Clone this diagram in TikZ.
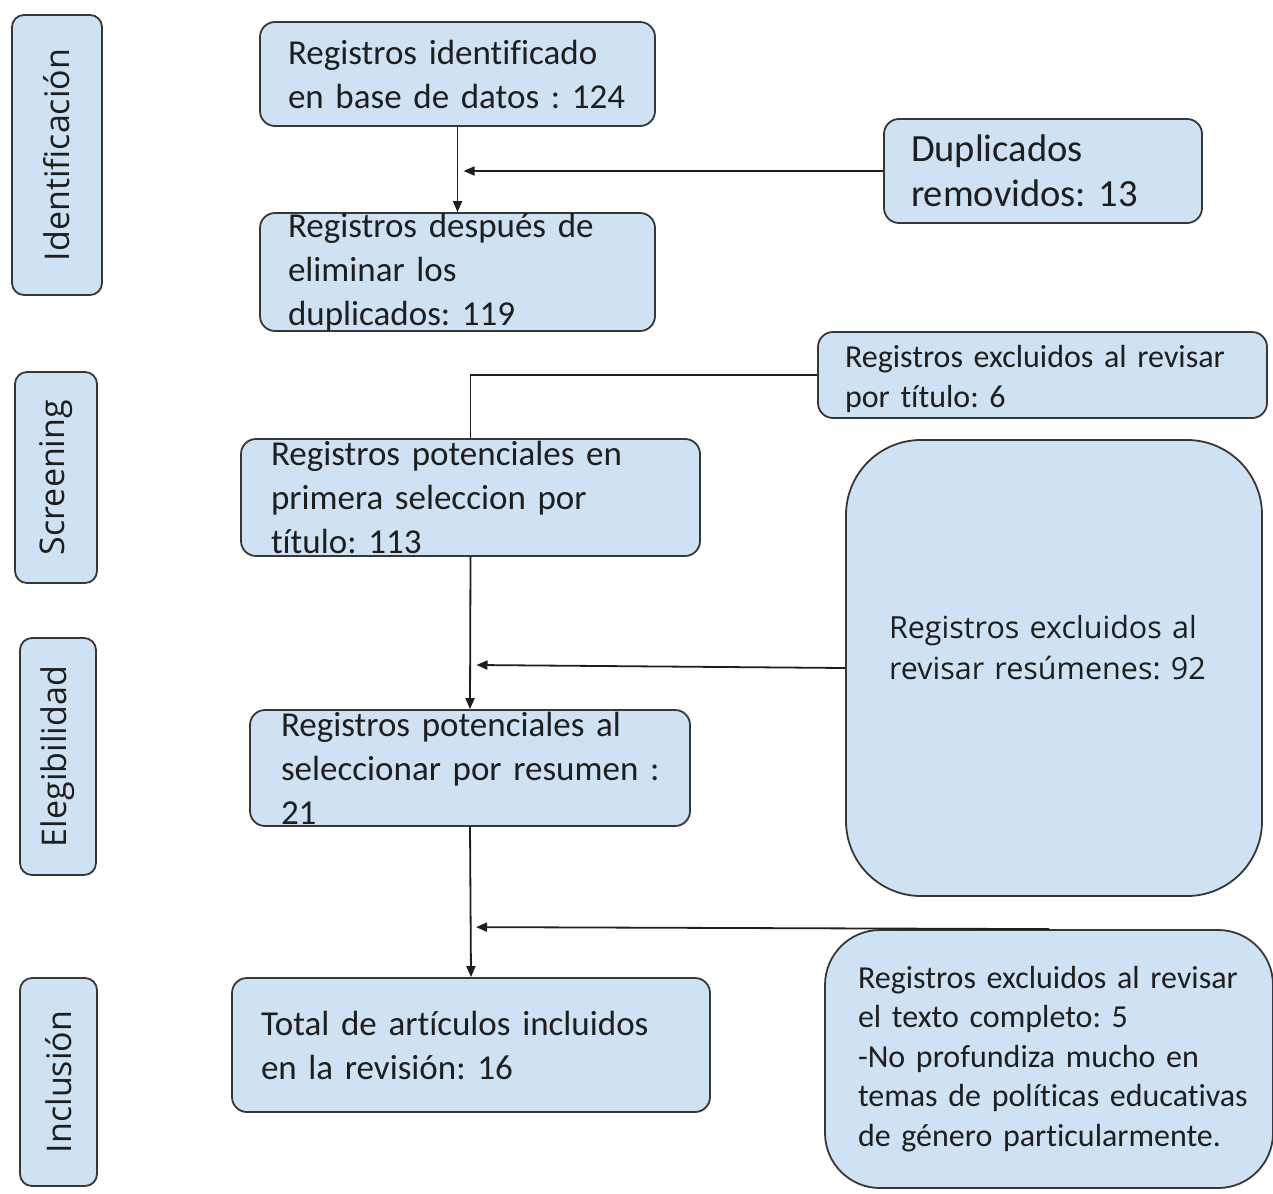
\documentclass[tikz,border=0pt]{standalone}
\usepackage{fontspec}
\setmainfont[Ligatures={NoCommon}]{Carlito}
\newfontfamily\opensans{Open Sans}
\usetikzlibrary{calc, arrows.meta}
\definecolor{boxfill}{RGB}{207, 226, 243}
\definecolor{boxline}{RGB}{55, 55, 55}
\definecolor{ink}{RGB}{30, 30, 30}
\frenchspacing
\hyphenpenalty=10000
\exhyphenpenalty=10000

\tikzset{
  flowbox/.style={draw=boxline, fill=boxfill, line width=1.8pt, rounded corners=15pt,
    align=left, inner ysep=0pt, text=ink, font=\fontsize{35}{44}\selectfont},
  smalltext/.style={font=\fontsize{32}{39.5}\selectfont},
  phasebox/.style={draw=boxline, fill=boxfill, line width=1.8pt, rounded corners=12pt,
    inner sep=0pt, rotate=90, text=ink, font=\opensans\fontsize{34}{40}\selectfont},
  link/.style={line width=1.8pt, draw=ink},
  flow/.style={link, -{Triangle[length=11pt, width=9pt]}},
}

\begin{document}
\begin{tikzpicture}[x=1pt, y=-1pt]

  \useasboundingbox (0, 0) rectangle (1273, 1193);

  % phases on the left
  \foreach \nm/\lbl/\x/\y/\w/\h in {ident/Identificación/57/155/90/280,
      screen/Screening/56/477.5/82/211, eleg/Elegibilidad/58/756.5/76/237,
      incl/Inclusión/58.5/1082/77/208} {
    \node[phasebox, minimum width=\h pt, minimum height=\w pt] (\nm) at (\x, \y) {\lbl};
  }

  % main column
  \node[flowbox, minimum width=395pt, minimum height=104pt, text width=339pt, inner xsep=28pt]
    (regid) at (457.5, 74) {Registros identificado\\\mbox{en base de datos : 124}};
  \node[flowbox, minimum width=395pt, minimum height=118pt, text width=339pt, inner xsep=28pt]
    (regdup) at (457.5, 272) {Registros después de\\eliminar los\\duplicados: 119};
  \node[flowbox, minimum width=459pt, minimum height=117pt, text width=399pt, inner xsep=30pt]
    (primsel) at (470.5, 497.5) {Registros potenciales en\\primera seleccion por\\título: 113};
  \node[flowbox, minimum width=440pt, minimum height=116pt, text width=378pt, inner xsep=31pt]
    (selres) at (470, 768) {Registros potenciales al\\\mbox{seleccionar por resumen :}\\21};
  \node[flowbox, minimum width=478pt, minimum height=134pt, text width=420pt, inner xsep=29pt]
    (total) at (471, 1045) {Total de artículos incluidos\\en la revisión: 16};

  % exclusions on the right
  \node[flowbox, font=\fontsize{38.5}{45}\selectfont, minimum width=318pt, minimum height=104pt,
    text width=264pt, inner xsep=27pt]
    (dup) at (1043, 171) {Duplicados\\removidos: 13};
  \node[flowbox, smalltext, minimum width=449pt, minimum height=86pt, text width=395pt, inner xsep=27pt]
    (extit) at (1042.5, 375) {\rule{0pt}{30pt}Registros excluidos al revisar\\por título: 6};
  \node[flowbox, font=\opensans\fontsize{30.5}{41}\selectfont, rounded corners=75pt,
    minimum width=416pt, minimum height=456pt, text width=330pt, inner xsep=43pt]
    (exres) at (1054, 668) {Registros excluidos al\\revisar resúmenes: 92\\\mbox{}};
  \node[flowbox, smalltext, rounded corners=55pt, minimum width=448pt, minimum height=258pt,
    text width=382pt, inner xsep=33pt]
    (extex) at (1049, 1059) {Registros excluidos al revisar\\el texto completo: 5\\-No profundiza mucho en\\\mbox{temas de políticas educativas}\\de género particularmente.};

  % connectors
  \draw[flow] (regid.south) -- (regdup.north);
  \draw[flow] (dup.west) -- ($(regid.south |- dup.west)+(6, 0)$);
  \draw[link] (extit.west) -| (primsel.north);
  \draw[flow] (primsel.south) -- (selres.north);
  \draw[flow] (exres.west) -- ($(primsel.south |- exres.west)+(6, -3)$);
  \draw[flow] (selres.south) -- (total.north);
  \draw[flow] (extex.north) -- ($(selres.south |- extex.north)+(6, -2)$);

\end{tikzpicture}
\end{document}
